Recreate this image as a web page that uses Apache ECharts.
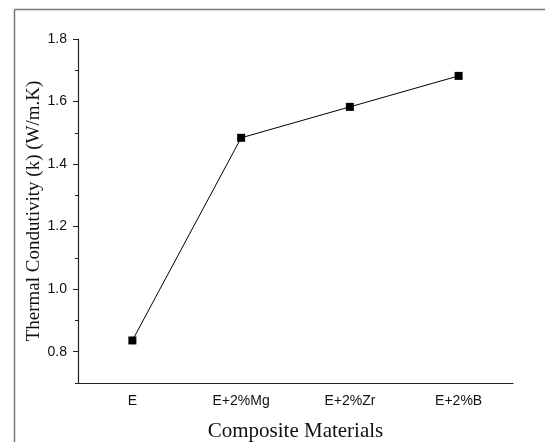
<!DOCTYPE html>
<html>
<head>
<meta charset="utf-8">
<script src="https://cdn.jsdelivr.net/npm/echarts@6/dist/echarts.min.js"></script>
<style>
  html, body { margin: 0; padding: 0; background: #fff; }
  #main { width: 545px; height: 442px; }
</style>
</head>
<body>
<div id="main"></div>
<script>
// categories and measured values
var materials = ['E', 'E+2%Mg', 'E+2%Zr', 'E+2%B']
var conductivity = [0.836, 1.484, 1.583, 1.682]
var majorTicks = [0.8, 1.0, 1.2, 1.4, 1.6, 1.8]

var myChart = echarts.init(document.getElementById('main'))
var labelStyle = { color: '#111', fontFamily: 'Liberation Sans, Arial', fontSize: 14 }

myChart.setOption({
  animation: false,
  grid: { left: 78, right: 32, top: 39, bottom: 59, outerBoundsMode: 'none' },
  graphic: [
    // outer frame (left + top only, as in the figure)
    { type: 'line', shape: { x1: 14.5, y1: 9.5, x2: 545, y2: 9.5 }, style: { stroke: '#777', lineWidth: 1.5 } },
    { type: 'line', shape: { x1: 14.5, y1: 9.5, x2: 14.5, y2: 442 }, style: { stroke: '#777', lineWidth: 1.5 } }
  ],
  xAxis: [{
    type: 'category',
    data: materials,
    boundaryGap: true,
    name: 'Composite Materials',
    nameLocation: 'middle',
    nameGap: 38,
    nameTextStyle: { fontFamily: 'Liberation Serif, Times New Roman', fontSize: 21, color: '#111' },
    axisLine: { lineStyle: { color: '#222', width: 1.2 } },
    axisTick: { alignWithLabel: false, length: 3, lineStyle: { color: '#222' } },
    axisLabel: { show: false },
    splitLine: { show: false }
  }, {
    type: 'category',
    data: materials,
    boundaryGap: true,
    position: 'bottom',
    axisLine: { show: false },
    axisTick: { alignWithLabel: true, length: 5, lineStyle: { color: '#222' } },
    axisLabel: Object.assign({ margin: 11 }, labelStyle),
    splitLine: { show: false }
  }],
  yAxis: [{
    type: 'value',
    min: 0.7,
    max: 1.8,
    interval: 0.1,
    name: 'Thermal Condutivity (k) (W/m.K)',
    nameLocation: 'middle',
    nameGap: 34,
    nameTextStyle: { fontFamily: 'Liberation Serif, Times New Roman', fontSize: 19, color: '#111' },
    axisLine: { show: true, lineStyle: { color: '#222', width: 1.2 } },
    axisTick: { show: true, length: 3, lineStyle: { color: '#222' } },
    axisLabel: { show: false },
    splitLine: { show: false }
  }, {
    type: 'value',
    min: 0.7,
    max: 1.8,
    position: 'left',
    axisLine: { show: false },
    axisTick: { show: true, length: 5, customValues: majorTicks, lineStyle: { color: '#222' } },
    axisLabel: Object.assign({
      margin: 11,
      customValues: majorTicks,
      formatter: function (v) { return v.toFixed(1) }
    }, labelStyle),
    splitLine: { show: false }
  }],
  series: [{
    type: 'line',
    data: conductivity,
    symbol: 'rect',
    symbolSize: 8,
    itemStyle: { color: '#000' },
    lineStyle: { color: '#000', width: 1 }
  }]
})
</script>
</body>
</html>
